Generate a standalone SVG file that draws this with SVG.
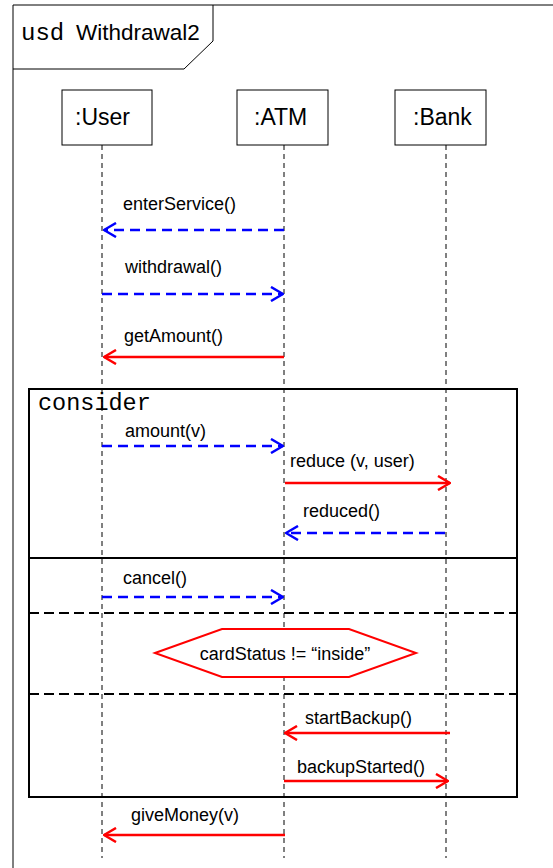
<svg xmlns="http://www.w3.org/2000/svg" width="553" height="868" viewBox="0 0 553 868">
  <style>
    .frame { fill: none; stroke: #000; stroke-width: 1; }
    .head { fill: #fff; stroke: #000; stroke-width: 1; }
    .life { stroke: #000; stroke-width: 1; stroke-dasharray: 5 4; }
    .frag { fill: none; stroke: #000; stroke-width: 2; }
    .sep { stroke: #000; stroke-width: 2; stroke-dasharray: 10 5; }
    .sans { font-family: "Liberation Sans", Arial, sans-serif; fill: #000; }
    .mono { font-family: "Liberation Mono", "Courier New", monospace; fill: #000; }
    .lbl { font-size: 18px; }
    .name { font-size: 23px; }
    .async { fill: none; stroke: #0000ff; stroke-width: 2.5; stroke-dasharray: 10 6; }
    .sync { fill: none; stroke: #ff0000; stroke-width: 2.5; }
  </style>
  <defs>
    <marker id="openBlue" viewBox="0 0 14 16" refX="13" refY="8" markerWidth="14" markerHeight="16" markerUnits="userSpaceOnUse" orient="auto">
      <path d="M1,1 L13,8 L1,15" fill="none" stroke="#0000ff" stroke-width="2.5"/>
    </marker>
    <marker id="openRed" viewBox="0 0 14 16" refX="13" refY="8" markerWidth="14" markerHeight="16" markerUnits="userSpaceOnUse" orient="auto">
      <path d="M1,1 L13,8 L1,15" fill="none" stroke="#ff0000" stroke-width="2.5"/>
    </marker>
  </defs>

  <rect width="553" height="868" fill="#fff"/>

  <!-- sequence diagram frame -->
  <g id="frame">
    <path class="frame" d="M13,868 V5 H553"/>
    <path class="frame" d="M213,5 V41 L184,69 H13"/>
    <text class="mono" x="21" y="40" font-size="24">usd</text>
    <text class="sans" x="76" y="40" font-size="22.5">Withdrawal2</text>
  </g>

  <!-- lifelines -->
  <g id="user">
    <line class="life" x1="102" y1="145" x2="102" y2="858"/>
    <rect class="head" x="62" y="90" width="90" height="55"/>
    <text class="sans name" x="75" y="125">:User</text>
  </g>
  <g id="atm">
    <line class="life" x1="284" y1="145" x2="284" y2="858"/>
    <rect class="head" x="237" y="90" width="91" height="55"/>
    <text class="sans name" x="254" y="125">:ATM</text>
  </g>
  <g id="bank">
    <line class="life" x1="446" y1="145" x2="446" y2="858"/>
    <rect class="head" x="395" y="90" width="91" height="55"/>
    <text class="sans name" x="413" y="125">:Bank</text>
  </g>

  <!-- combined fragment -->
  <g id="consider">
    <rect class="frag" x="29" y="389" width="488" height="408"/>
    <text class="mono" x="38" y="410" font-size="23.5">consider</text>
    <line stroke="#000" stroke-width="2" x1="29" y1="558" x2="517" y2="558"/>
    <line class="sep" x1="29" y1="613" x2="517" y2="613"/>
    <line class="sep" x1="29" y1="694" x2="517" y2="694"/>
  </g>

  <!-- guard condition -->
  <g id="guard">
    <polygon points="155,653 222,629 349,629 416,653 349,677 222,677" fill="#fff" stroke="#ff0000" stroke-width="2"/>
    <text class="sans lbl" x="285" y="660" text-anchor="middle">cardStatus != “inside”</text>
  </g>

  <!-- messages -->
  <g id="messages">
    <path class="async" d="M284,230 H104" marker-end="url(#openBlue)"/>
    <text class="sans lbl" x="123" y="210">enterService()</text>

    <path class="async" d="M102,294 H283" marker-end="url(#openBlue)"/>
    <text class="sans lbl" x="125" y="273">withdrawal()</text>

    <path class="sync" d="M284,357 H104" marker-end="url(#openRed)"/>
    <text class="sans lbl" x="124" y="342">getAmount()</text>

    <path class="async" d="M102,446 H283" marker-end="url(#openBlue)"/>
    <text class="sans lbl" x="125" y="437">amount(v)</text>

    <path class="sync" d="M285,483 H450" marker-end="url(#openRed)"/>
    <text class="sans lbl" x="290" y="467">reduce (v, user)</text>

    <path class="async" d="M445,533 H286" marker-end="url(#openBlue)"/>
    <text class="sans lbl" x="303" y="517">reduced()</text>

    <path class="async" d="M102,597 H283" marker-end="url(#openBlue)"/>
    <text class="sans lbl" x="123" y="584">cancel()</text>

    <path class="sync" d="M450,733 H285" marker-end="url(#openRed)"/>
    <text class="sans lbl" x="305" y="724">startBackup()</text>

    <path class="sync" d="M284,781 H448" marker-end="url(#openRed)"/>
    <text class="sans lbl" x="297" y="773">backupStarted()</text>

    <path class="sync" d="M285,835 H104" marker-end="url(#openRed)"/>
    <text class="sans lbl" x="131" y="821">giveMoney(v)</text>
  </g>
</svg>
